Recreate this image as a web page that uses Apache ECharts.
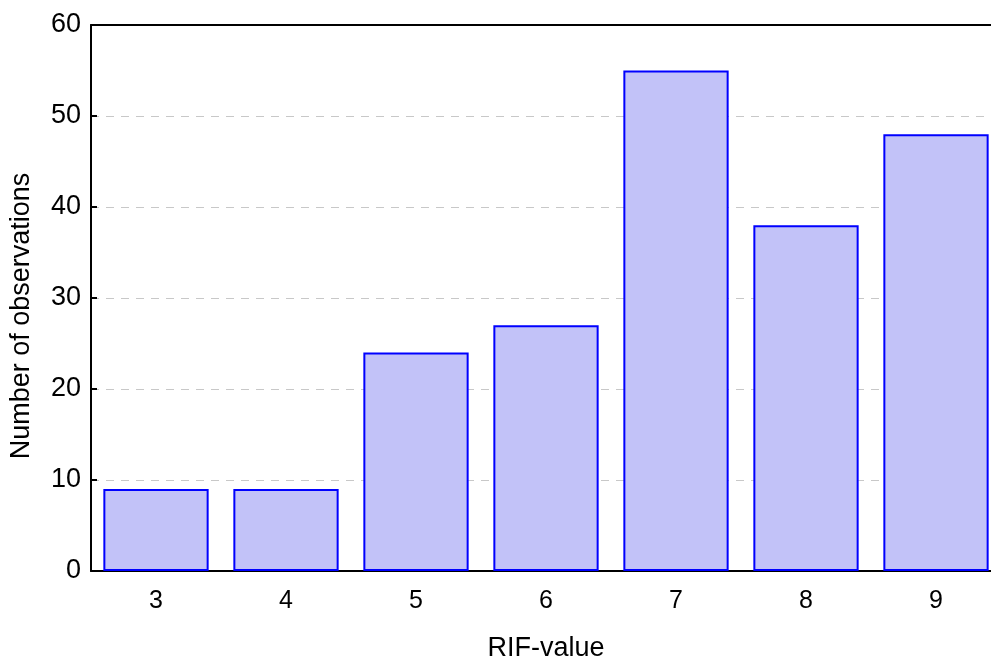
<!DOCTYPE html>
<html>
<head>
<meta charset="utf-8">
<script src="https://cdn.jsdelivr.net/npm/echarts@6/dist/echarts.min.js"></script>
<style>
html,body{margin:0;padding:0;background:#fff;}
#chart{width:991px;height:659px;}
</style>
</head>
<body>
<div id="chart"></div>
<script>
var categories = ['3', '4', '5', '6', '7', '8', '9'];
var observations = [9, 9, 24, 27, 55, 38, 48];
var yTicks = [0, 10, 20, 30, 40, 50, 60];

var chart = echarts.init(document.getElementById('chart'), null, {renderer: 'canvas'});
var font = 'Liberation Sans, Arial, sans-serif';
chart.setOption({
  animation: false,
  backgroundColor: '#ffffff',
  grid: {left: 91, top: 25, width: 910, height: 546, containLabel: false, outerBoundsMode: 'none'},
  xAxis: [{
    type: 'category',
    data: categories,
    position: 'bottom',
    name: 'RIF-value',
    nameLocation: 'middle',
    nameGap: 64,
    nameTextStyle: {fontFamily: font, fontSize: 27, color: '#000'},
    axisLine: {lineStyle: {color: '#000', width: 2}},
    axisTick: {inside: true, alignWithLabel: true, length: 6, lineStyle: {color: '#000', width: 2}},
    axisLabel: {fontFamily: font, fontSize: 25, color: '#000', margin: 18},
    splitLine: {show: false}
  }, {
    type: 'category',
    data: categories,
    position: 'top',
    axisLine: {show: true, lineStyle: {color: '#000', width: 2}},
    axisTick: {inside: true, alignWithLabel: true, length: 6, lineStyle: {color: '#000', width: 2}},
    axisLabel: {show: false},
    splitLine: {show: false}
  }],
  yAxis: {
    type: 'value',
    min: 0,
    max: 60,
    interval: 10,
    name: 'Number of observations',
    nameLocation: 'middle',
    nameGap: 56,
    nameTextStyle: {fontFamily: font, fontSize: 27, color: '#000', padding: [0, 36, 0, 0]},
    axisLine: {show: true, lineStyle: {color: '#000', width: 2}},
    axisTick: {show: true, inside: true, length: 6, lineStyle: {color: '#000', width: 2}},
    axisLabel: {fontFamily: font, fontSize: 27, color: '#000', margin: 10,
      formatter: function (v) { return yTicks.indexOf(v) >= 0 ? String(v) : ''; }},
    splitLine: {show: true, lineStyle: {color: '#c8c8c8', type: [8, 7], width: 1}}
  },
  series: [{
    type: 'bar',
    data: observations,
    xAxisIndex: 0,
    barCategoryGap: '19%',
    itemStyle: {color: '#c2c2f8', borderColor: '#0000ff', borderWidth: 2}
  }]
});
</script>
</body>
</html>
